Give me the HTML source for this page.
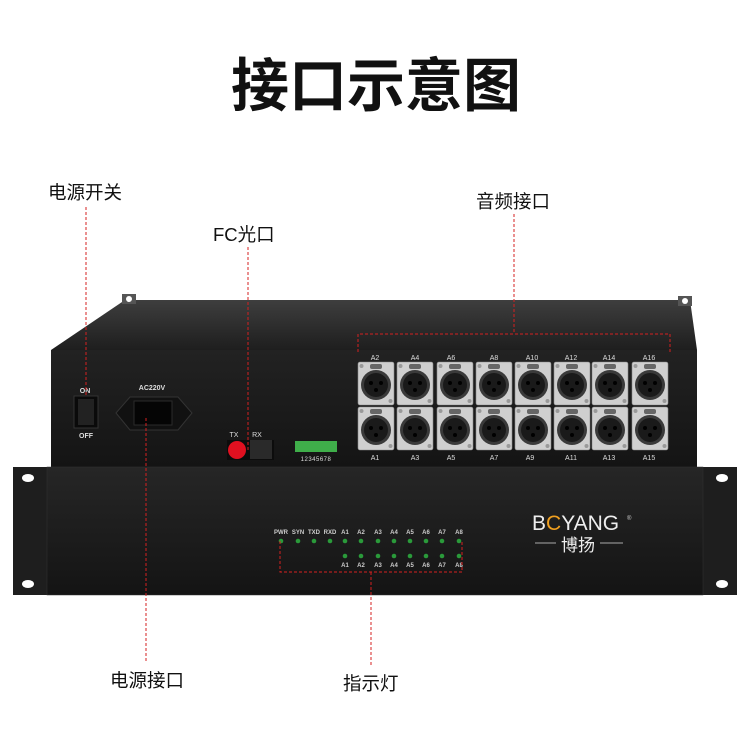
<!DOCTYPE html>
<html><head><meta charset="utf-8"><style>
body{margin:0;background:#fff;}
svg{display:block}
</style></head><body>
<svg width="750" height="750" viewBox="0 0 750 750" xmlns="http://www.w3.org/2000/svg">
<defs>
<linearGradient id="top" x1="0" y1="0" x2="0" y2="1"><stop offset="0" stop-color="#3e3e3e"/><stop offset="1" stop-color="#1e1e1e"/></linearGradient>
<linearGradient id="back" x1="0" y1="0" x2="0" y2="1"><stop offset="0" stop-color="#222"/><stop offset="1" stop-color="#141414"/></linearGradient>
<linearGradient id="front" x1="0" y1="0" x2="0" y2="1"><stop offset="0" stop-color="#262626"/><stop offset="1" stop-color="#141414"/></linearGradient>
<g id="xlr">
<rect x="0" y="0" width="36" height="43" rx="2" fill="#cfcfcf" stroke="#888" stroke-width="0.6"/>
<rect x="12" y="2" width="12" height="5" rx="2" fill="#666"/>
<circle cx="18" cy="23" r="15" fill="#3a3a3a"/>
<circle cx="18" cy="23" r="12" fill="#1a1a1a"/>
<circle cx="13" cy="21" r="2" fill="#000"/><circle cx="23" cy="21" r="2" fill="#000"/><circle cx="18" cy="28" r="2" fill="#000"/>
<circle cx="3.5" cy="4" r="2" fill="#999"/><circle cx="32.5" cy="39" r="2" fill="#999"/>
</g>
</defs>
<text x="376" y="106" text-anchor="middle" font-family="Liberation Sans,'Noto Sans CJK SC',sans-serif" font-size="58" font-weight="bold" fill="#111">接口示意图</text>

<polygon points="51,350 125,300 690,300 697,350" fill="url(#top)"/>
<rect x="122" y="294" width="14" height="10" fill="#555"/>
<rect x="678" y="296" width="14" height="10" fill="#555"/>
<circle cx="129" cy="299" r="3" fill="#fff"/><circle cx="685" cy="301" r="3" fill="#fff"/>
<rect x="51" y="350" width="646" height="118" fill="url(#back)"/>
<text x="85" y="393" text-anchor="middle" font-family="Liberation Sans,sans-serif" font-size="7" font-weight="bold" fill="#ddd">ON</text>
<rect x="74" y="396" width="24" height="32" fill="#0a0a0a" stroke="#333"/>
<rect x="78" y="399" width="16" height="26" fill="#222"/>
<text x="86" y="438" text-anchor="middle" font-family="Liberation Sans,sans-serif" font-size="7" font-weight="bold" fill="#ddd">OFF</text>
<text x="152" y="390" text-anchor="middle" font-family="Liberation Sans,sans-serif" font-size="7" font-weight="bold" fill="#ddd">AC220V</text>
<path d="M116,413 L130,397 L178,397 L192,413 L178,430 L130,430 Z" fill="#111" stroke="#333"/>
<rect x="134" y="401" width="38" height="24" fill="#050505" stroke="#2a2a2a"/>
<text x="234" y="437" text-anchor="middle" font-family="Liberation Sans,sans-serif" font-size="7" fill="#ddd">TX</text>
<text x="257" y="437" text-anchor="middle" font-family="Liberation Sans,sans-serif" font-size="7" fill="#ddd">RX</text>
<rect x="227" y="440" width="47" height="20" fill="#0c0c0c"/>
<rect x="250" y="440" width="22" height="19" fill="#2a2a2a"/>
<circle cx="237" cy="450" r="9" fill="#e01020"/>
<rect x="295" y="441" width="42" height="11" fill="#3fae4a"/>
<text x="316" y="461" text-anchor="middle" font-family="Liberation Sans,sans-serif" font-size="6" fill="#ddd" letter-spacing="0.5">12345678</text>
<g font-family="Liberation Sans,sans-serif" font-size="7" fill="#ddd" text-anchor="middle">
<text x="375" y="360">A2</text><text x="415" y="360">A4</text><text x="451" y="360">A6</text><text x="494" y="360">A8</text><text x="532" y="360">A10</text><text x="571" y="360">A12</text><text x="609" y="360">A14</text><text x="649" y="360">A16</text>
<text x="375" y="460">A1</text><text x="415" y="460">A3</text><text x="451" y="460">A5</text><text x="494" y="460">A7</text><text x="530" y="460">A9</text><text x="571" y="460">A11</text><text x="609" y="460">A13</text><text x="649" y="460">A15</text>
</g>
<use href="#xlr" x="358" y="362"/><use href="#xlr" x="397" y="362"/><use href="#xlr" x="437" y="362"/><use href="#xlr" x="476" y="362"/><use href="#xlr" x="515" y="362"/><use href="#xlr" x="554" y="362"/><use href="#xlr" x="592" y="362"/><use href="#xlr" x="632" y="362"/>
<use href="#xlr" x="358" y="407"/><use href="#xlr" x="397" y="407"/><use href="#xlr" x="437" y="407"/><use href="#xlr" x="476" y="407"/><use href="#xlr" x="515" y="407"/><use href="#xlr" x="554" y="407"/><use href="#xlr" x="592" y="407"/><use href="#xlr" x="632" y="407"/>
<rect x="13" y="467" width="35" height="128" fill="#1e1e1e"/>
<rect x="702" y="467" width="35" height="128" fill="#1e1e1e"/>
<ellipse cx="28" cy="478" rx="6" ry="4" fill="#fff"/><ellipse cx="28" cy="584" rx="6" ry="4" fill="#fff"/>
<ellipse cx="722" cy="478" rx="6" ry="4" fill="#fff"/><ellipse cx="722" cy="584" rx="6" ry="4" fill="#fff"/>
<rect x="47" y="467" width="656" height="128" fill="url(#front)" stroke="#333" stroke-width="0.5"/>
<g font-family="Liberation Sans,sans-serif" font-size="6" font-weight="bold" fill="#ccc" text-anchor="middle">
<text x="281" y="534">PWR</text><text x="298" y="534">SYN</text><text x="314" y="534">TXD</text><text x="330" y="534">RXD</text><text x="345" y="534">A1</text><text x="361" y="534">A2</text><text x="378" y="534">A3</text><text x="394" y="534">A4</text><text x="410" y="534">A5</text><text x="426" y="534">A6</text><text x="442" y="534">A7</text><text x="459" y="534">A8</text>
<text x="345" y="567">A1</text><text x="361" y="567">A2</text><text x="378" y="567">A3</text><text x="394" y="567">A4</text><text x="410" y="567">A5</text><text x="426" y="567">A6</text><text x="442" y="567">A7</text><text x="459" y="567">A8</text>
</g>
<g fill="#2a9a3a">
<circle cx="281" cy="541" r="2.3"/><circle cx="298" cy="541" r="2.3"/><circle cx="314" cy="541" r="2.3"/><circle cx="330" cy="541" r="2.3"/><circle cx="345" cy="541" r="2.3"/><circle cx="361" cy="541" r="2.3"/><circle cx="378" cy="541" r="2.3"/><circle cx="394" cy="541" r="2.3"/><circle cx="410" cy="541" r="2.3"/><circle cx="426" cy="541" r="2.3"/><circle cx="442" cy="541" r="2.3"/><circle cx="459" cy="541" r="2.3"/>
<circle cx="345" cy="556" r="2.3"/><circle cx="361" cy="556" r="2.3"/><circle cx="378" cy="556" r="2.3"/><circle cx="394" cy="556" r="2.3"/><circle cx="410" cy="556" r="2.3"/><circle cx="426" cy="556" r="2.3"/><circle cx="442" cy="556" r="2.3"/><circle cx="459" cy="556" r="2.3"/>
</g>
<text x="532" y="530" font-family="Liberation Sans,sans-serif" font-size="21" fill="#eee">B<tspan fill="#f0a020">C</tspan>YANG</text>
<text x="627" y="520" font-family="Liberation Sans,sans-serif" font-size="6" fill="#ccc">®</text>
<line x1="535" y1="543" x2="556" y2="543" stroke="#aaa" stroke-width="1"/>
<line x1="600" y1="543" x2="623" y2="543" stroke="#aaa" stroke-width="1"/>
<text x="578" y="551" text-anchor="middle" font-family="Liberation Sans,'Noto Sans CJK SC',sans-serif" font-size="17" fill="#eee">博扬</text>

<g stroke="#d42020" stroke-width="1" stroke-dasharray="3,2" fill="none">
<line x1="86" y1="207" x2="86" y2="397"/>
<line x1="248" y1="247" x2="248" y2="450"/>
<line x1="514" y1="214" x2="514" y2="334"/>
<polyline points="358,352 358,334 670,334 670,352"/>
<line x1="146" y1="418" x2="146" y2="662"/>
<polyline points="280,541 280,572 462,572 462,541"/>
<line x1="371" y1="572" x2="371" y2="666"/>
</g>
<g font-family="Liberation Sans,'Noto Sans CJK SC',sans-serif" font-size="18.5" fill="#111">
<text x="48" y="199">电源开关</text>
<text x="213" y="241">FC光口</text>
<text x="476" y="208">音频接口</text>
<text x="110" y="687">电源接口</text>
<text x="343" y="690">指示灯</text>
</g>
</svg>
</body></html>
